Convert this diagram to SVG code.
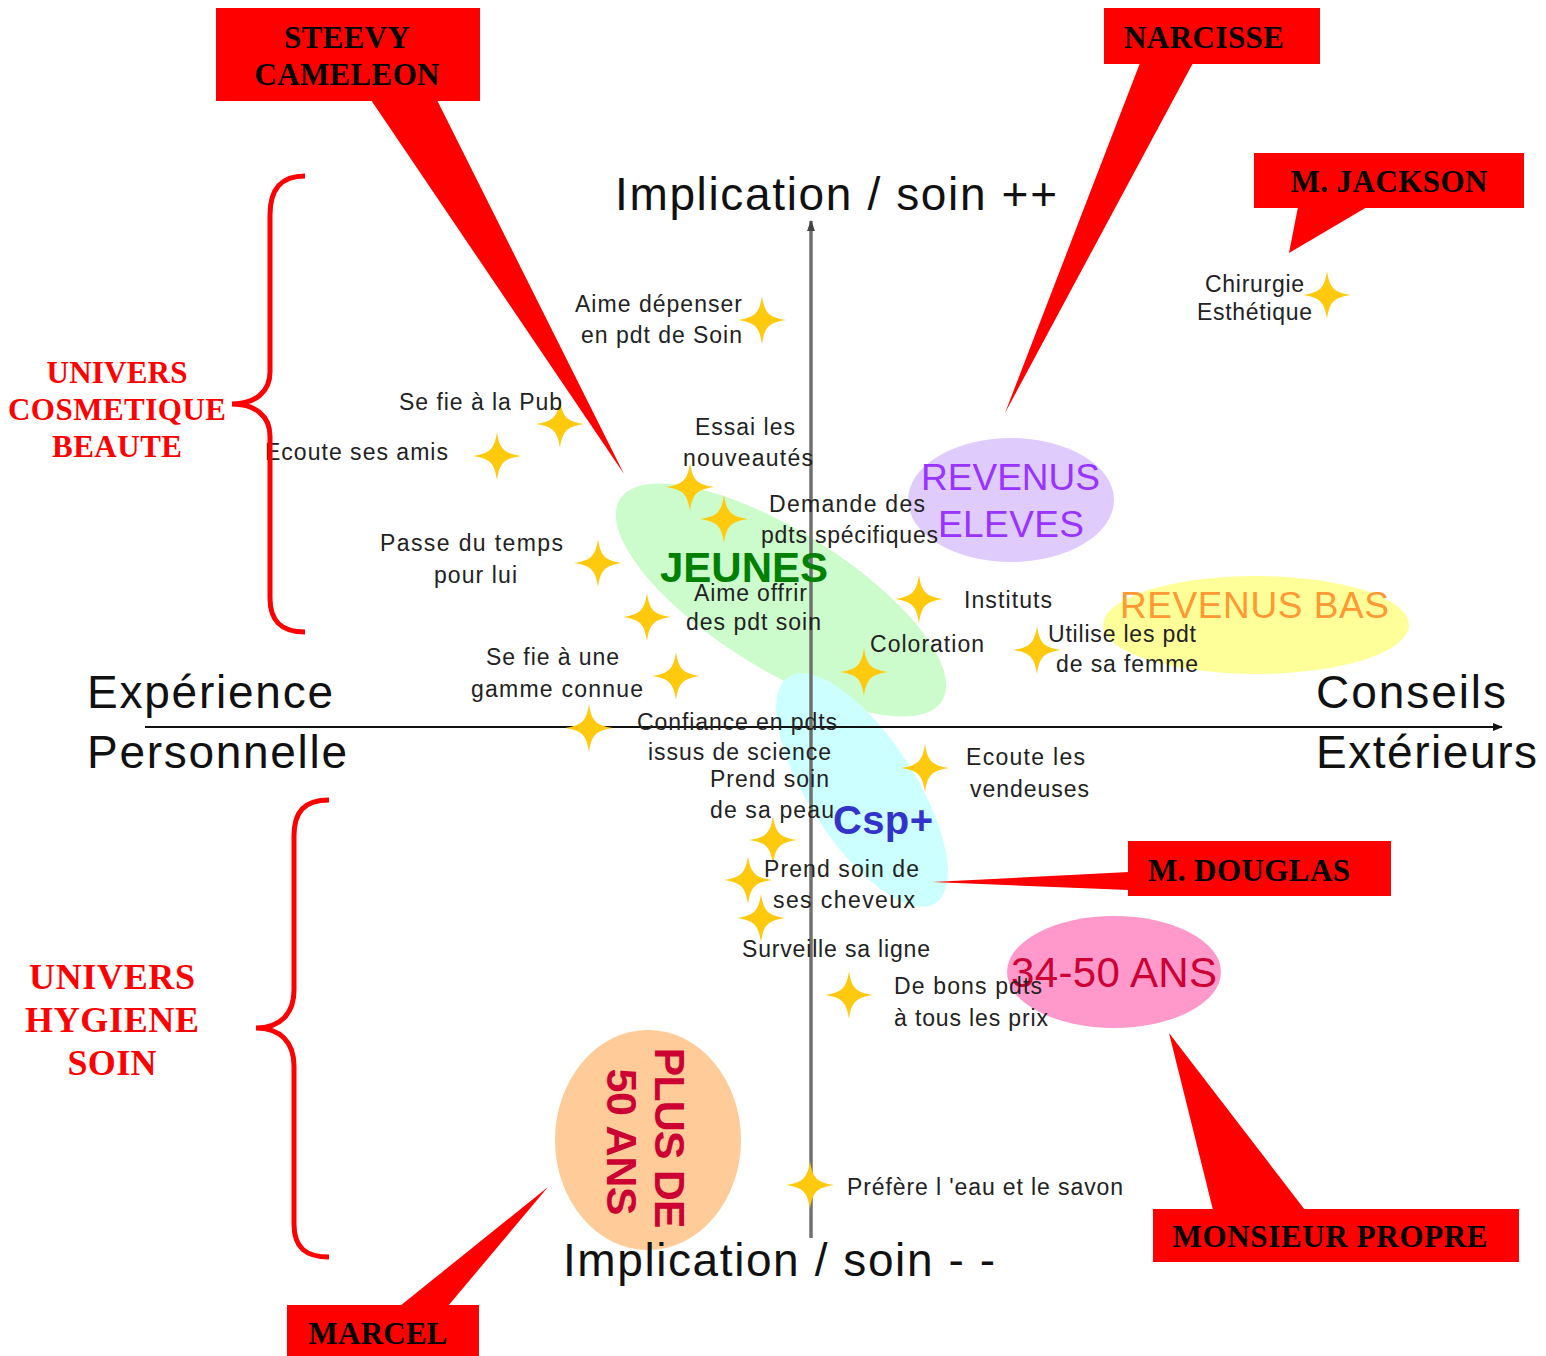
<svg xmlns="http://www.w3.org/2000/svg" width="1546" height="1356" viewBox="0 0 1546 1356">
<defs>
<style>
.lbl{font-family:"Liberation Sans",Arial,sans-serif;font-size:23px;fill:#222}
.ax{font-family:"Liberation Sans",Arial,sans-serif;font-size:46px;fill:#111}
.co{font-family:"Liberation Serif","Times New Roman",serif;font-size:31px;font-weight:bold;fill:#000;text-anchor:middle}
.uni{font-family:"Liberation Serif","Times New Roman",serif;font-weight:bold;fill:#ff0000;text-anchor:middle}
.box{fill:#ff0000}
.brace{fill:none;stroke:#ff0000;stroke-width:5;stroke-linecap:butt}
.grp{font-family:"Liberation Sans",Arial,sans-serif}
.star{fill:#ffc90e}
</style>
<path id="st" d="M0,-24 C2.5,-7 7,-2.5 24,0 C7,2.5 2.5,7 0,24 C-2.5,7 -7,2.5 -24,0 C-7,-2.5 -2.5,-7 0,-24 Z"/>
<marker id="ah" markerWidth="10" markerHeight="10" refX="9" refY="5" orient="auto" markerUnits="userSpaceOnUse">
<path d="M0,1 L10,5 L0,9 Z" fill="#111"/>
</marker>
<marker id="ahg" markerWidth="12" markerHeight="12" refX="10" refY="6" orient="auto" markerUnits="userSpaceOnUse">
<path d="M0,2 L11,6 L0,10 Z" fill="#444"/>
</marker>
</defs>
<rect width="1546" height="1356" fill="#ffffff"/>

<!-- group ellipses -->
<g id="jeunes" class="grp">
<ellipse cx="781" cy="600" rx="190" ry="69" transform="rotate(32 781 600)" fill="#ccfccc"/>
</g>
<g id="cspplus" class="grp">
<ellipse cx="862" cy="790" rx="135" ry="53" transform="rotate(57 862 790)" fill="#ccffff"/>
</g>
<g id="revenus-eleves" class="grp">
<ellipse cx="1011" cy="500" rx="103" ry="62" fill="#e0ccfc"/>
</g>
<g id="revenus-bas" class="grp">
<ellipse cx="1256" cy="625" rx="153" ry="49" fill="#ffff99"/>
</g>
<g id="ans-34-50" class="grp">
<ellipse cx="1114" cy="972" rx="107" ry="56" fill="#ff99cc"/>
</g>
<g id="plus-50" class="grp">
<ellipse cx="648" cy="1140" rx="93" ry="110" fill="#ffcc99"/>
</g>

<!-- axes -->
<g id="connectors">
<line x1="145" y1="727" x2="1502" y2="727" stroke="#111" stroke-width="2" marker-end="url(#ah)"/>
<line x1="811" y1="1238" x2="811" y2="221" stroke="#707070" stroke-width="3.5" marker-end="url(#ahg)"/>
</g>

<!-- axis labels -->
<g id="axis-labels">
<text class="ax" x="615" y="210" textLength="442" lengthAdjust="spacing">Implication / soin ++</text>
<text class="ax" x="563" y="1276" textLength="432" lengthAdjust="spacing">Implication / soin - -</text>
<text class="ax" x="87" y="708" textLength="246" lengthAdjust="spacing">Expérience</text>
<text class="ax" x="87" y="768" textLength="260" lengthAdjust="spacing">Personnelle</text>
<text class="ax" x="1316" y="708" textLength="190" lengthAdjust="spacing">Conseils</text>
<text class="ax" x="1316" y="768" textLength="221" lengthAdjust="spacing">Extérieurs</text>
</g>

<!-- stars -->
<g id="stars" class="star">
<use href="#st" x="762" y="320"/>
<use href="#st" x="560" y="424"/>
<use href="#st" x="497" y="456"/>
<use href="#st" x="690" y="487"/>
<use href="#st" x="724" y="519"/>
<use href="#st" x="598" y="563"/>
<use href="#st" x="647" y="617"/>
<use href="#st" x="919" y="599"/>
<use href="#st" x="864" y="672"/>
<use href="#st" x="1037" y="650"/>
<use href="#st" x="676" y="676"/>
<use href="#st" x="589" y="728"/>
<use href="#st" x="925" y="768"/>
<use href="#st" x="773" y="840"/>
<use href="#st" x="748" y="880"/>
<use href="#st" x="761" y="918"/>
<use href="#st" x="849" y="995"/>
<use href="#st" x="810" y="1185"/>
<use href="#st" x="1327" y="295"/>
</g>

<!-- group texts -->
<g id="group-labels" class="grp">
<text x="660" y="582" font-size="42" font-weight="bold" fill="#008000" textLength="168" lengthAdjust="spacing">JEUNES</text>
<text x="833" y="834" font-size="40" font-weight="bold" fill="#3333cc" textLength="100" lengthAdjust="spacing">Csp+</text>
<text x="921" y="490" font-size="37" fill="#9933ff" textLength="179" lengthAdjust="spacing">REVENUS</text>
<text x="938" y="537" font-size="37" fill="#9933ff" textLength="146" lengthAdjust="spacing">ELEVES</text>
<text x="1120" y="618" font-size="37" fill="#ff9933" textLength="269" lengthAdjust="spacing">REVENUS BAS</text>
<text x="1011" y="987" font-size="42" fill="#cc0033" textLength="206" lengthAdjust="spacing">34-50 ANS</text>
<text transform="translate(655 1138) rotate(90)" x="0" y="0" font-size="43" font-weight="bold" fill="#cc0033" text-anchor="middle" textLength="181" lengthAdjust="spacing">PLUS DE</text>
<text transform="translate(607 1142) rotate(90)" x="0" y="0" font-size="43" font-weight="bold" fill="#cc0033" text-anchor="middle" textLength="147" lengthAdjust="spacing">50 ANS</text>
</g>

<!-- point labels -->
<g id="point-labels">
<text class="lbl" x="575" y="312" textLength="167" lengthAdjust="spacing">Aime dépenser</text>
<text class="lbl" x="581" y="343" textLength="161" lengthAdjust="spacing">en pdt de Soin</text>
<text class="lbl" x="399" y="410" textLength="163" lengthAdjust="spacing">Se fie à la Pub</text>
<text class="lbl" x="265" y="460" textLength="183" lengthAdjust="spacing">Ecoute ses amis</text>
<text class="lbl" x="695" y="435" textLength="100" lengthAdjust="spacing">Essai les</text>
<text class="lbl" x="683" y="466" textLength="130" lengthAdjust="spacing">nouveautés</text>
<text class="lbl" x="769" y="512" textLength="156" lengthAdjust="spacing">Demande des</text>
<text class="lbl" x="761" y="543" textLength="177" lengthAdjust="spacing">pdts spécifiques</text>
<text class="lbl" x="380" y="551" textLength="183" lengthAdjust="spacing">Passe du temps</text>
<text class="lbl" x="434" y="583" textLength="83" lengthAdjust="spacing">pour lui</text>
<text class="lbl" x="694" y="601" textLength="113" lengthAdjust="spacing">Aime offrir</text>
<text class="lbl" x="686" y="630" textLength="135" lengthAdjust="spacing">des pdt soin</text>
<text class="lbl" x="964" y="608" textLength="88" lengthAdjust="spacing">Instituts</text>
<text class="lbl" x="870" y="652" textLength="114" lengthAdjust="spacing">Coloration</text>
<text class="lbl" x="1048" y="642" textLength="148" lengthAdjust="spacing">Utilise les pdt</text>
<text class="lbl" x="1056" y="672" textLength="142" lengthAdjust="spacing">de sa femme</text>
<text class="lbl" x="486" y="665" textLength="133" lengthAdjust="spacing">Se fie à une</text>
<text class="lbl" x="471" y="697" textLength="172" lengthAdjust="spacing">gamme connue</text>
<text class="lbl" x="637" y="730" textLength="200" lengthAdjust="spacing">Confiance en pdts</text>
<text class="lbl" x="648" y="760" textLength="183" lengthAdjust="spacing">issus de science</text>
<text class="lbl" x="966" y="765" textLength="119" lengthAdjust="spacing">Ecoute les</text>
<text class="lbl" x="970" y="797" textLength="119" lengthAdjust="spacing">vendeuses</text>
<text class="lbl" x="710" y="787" textLength="119" lengthAdjust="spacing">Prend soin</text>
<text class="lbl" x="710" y="818" textLength="124" lengthAdjust="spacing">de sa peau</text>
<text class="lbl" x="764" y="877" textLength="155" lengthAdjust="spacing">Prend soin de</text>
<text class="lbl" x="773" y="908" textLength="142" lengthAdjust="spacing">ses cheveux</text>
<text class="lbl" x="742" y="957" textLength="188" lengthAdjust="spacing">Surveille sa ligne</text>
<text class="lbl" x="894" y="994" textLength="148" lengthAdjust="spacing">De bons pdts</text>
<text class="lbl" x="894" y="1026" textLength="154" lengthAdjust="spacing">à tous les prix</text>
<text class="lbl" x="847" y="1195" textLength="276" lengthAdjust="spacing">Préfère l 'eau et le savon</text>
<text class="lbl" x="1205" y="292" textLength="99" lengthAdjust="spacing">Chirurgie</text>
<text class="lbl" x="1197" y="320" textLength="115" lengthAdjust="spacing">Esthétique</text>
</g>

<!-- braces -->
<g id="univers-cosmetique">
<path class="brace" d="M305,176 C280,176 270,190 270,215 L270,372 C270,392 255,404 232,404 C255,404 270,416 270,436 L270,598 C270,622 282,632 305,632"/>
<text class="uni" x="117" y="383" font-size="31" textLength="141" lengthAdjust="spacing">UNIVERS</text>
<text class="uni" x="117" y="420" font-size="31" textLength="218" lengthAdjust="spacing">COSMETIQUE</text>
<text class="uni" x="117" y="457" font-size="31" textLength="130" lengthAdjust="spacing">BEAUTE</text>
</g>
<g id="univers-hygiene">
<path class="brace" d="M329,800 C304,800 294,812 294,836 L294,990 C294,1014 280,1028 256,1028 C280,1028 294,1042 294,1066 L294,1224 C294,1248 306,1257 329,1257"/>
<text class="uni" x="112" y="989" font-size="36" textLength="166" lengthAdjust="spacing">UNIVERS</text>
<text class="uni" x="112" y="1032" font-size="36" textLength="174" lengthAdjust="spacing">HYGIENE</text>
<text class="uni" x="112" y="1075" font-size="36" textLength="89" lengthAdjust="spacing">SOIN</text>
</g>

<!-- callouts -->
<g id="steevy-cameleon">
<rect class="box" x="216" y="8" width="264" height="93"/>
<polygon class="box" points="371,100 437,100 624,474"/>
<text class="co" x="347" y="48" textLength="126" lengthAdjust="spacing">STEEVY</text>
<text class="co" x="347" y="85" textLength="185" lengthAdjust="spacing">CAMELEON</text>
</g>
<g id="narcisse">
<rect class="box" x="1104" y="8" width="216" height="56"/>
<polygon class="box" points="1140,63 1193,63 1005,413"/>
<text class="co" x="1204" y="48" textLength="160" lengthAdjust="spacing">NARCISSE</text>
</g>
<g id="m-jackson">
<rect class="box" x="1254" y="153" width="270" height="55"/>
<polygon class="box" points="1298,207 1367,207 1289,253"/>
<text class="co" x="1389" y="192" textLength="197" lengthAdjust="spacing">M. JACKSON</text>
</g>
<g id="m-douglas">
<rect class="box" x="1128" y="841" width="263" height="55"/>
<polygon class="box" points="1129,872 1129,890 932,882"/>
<text class="co" x="1249" y="881" textLength="202" lengthAdjust="spacing">M. DOUGLAS</text>
</g>
<g id="monsieur-propre">
<rect class="box" x="1153" y="1209" width="366" height="53"/>
<polygon class="box" points="1213,1210 1305,1210 1169,1033"/>
<text class="co" x="1330" y="1247" textLength="315" lengthAdjust="spacing">MONSIEUR PROPRE</text>
</g>
<g id="marcel">
<rect class="box" x="287" y="1305" width="192" height="51"/>
<polygon class="box" points="400,1306 448,1306 548,1187"/>
<text class="co" x="378" y="1344" textLength="139" lengthAdjust="spacing">MARCEL</text>
</g>
</svg>
